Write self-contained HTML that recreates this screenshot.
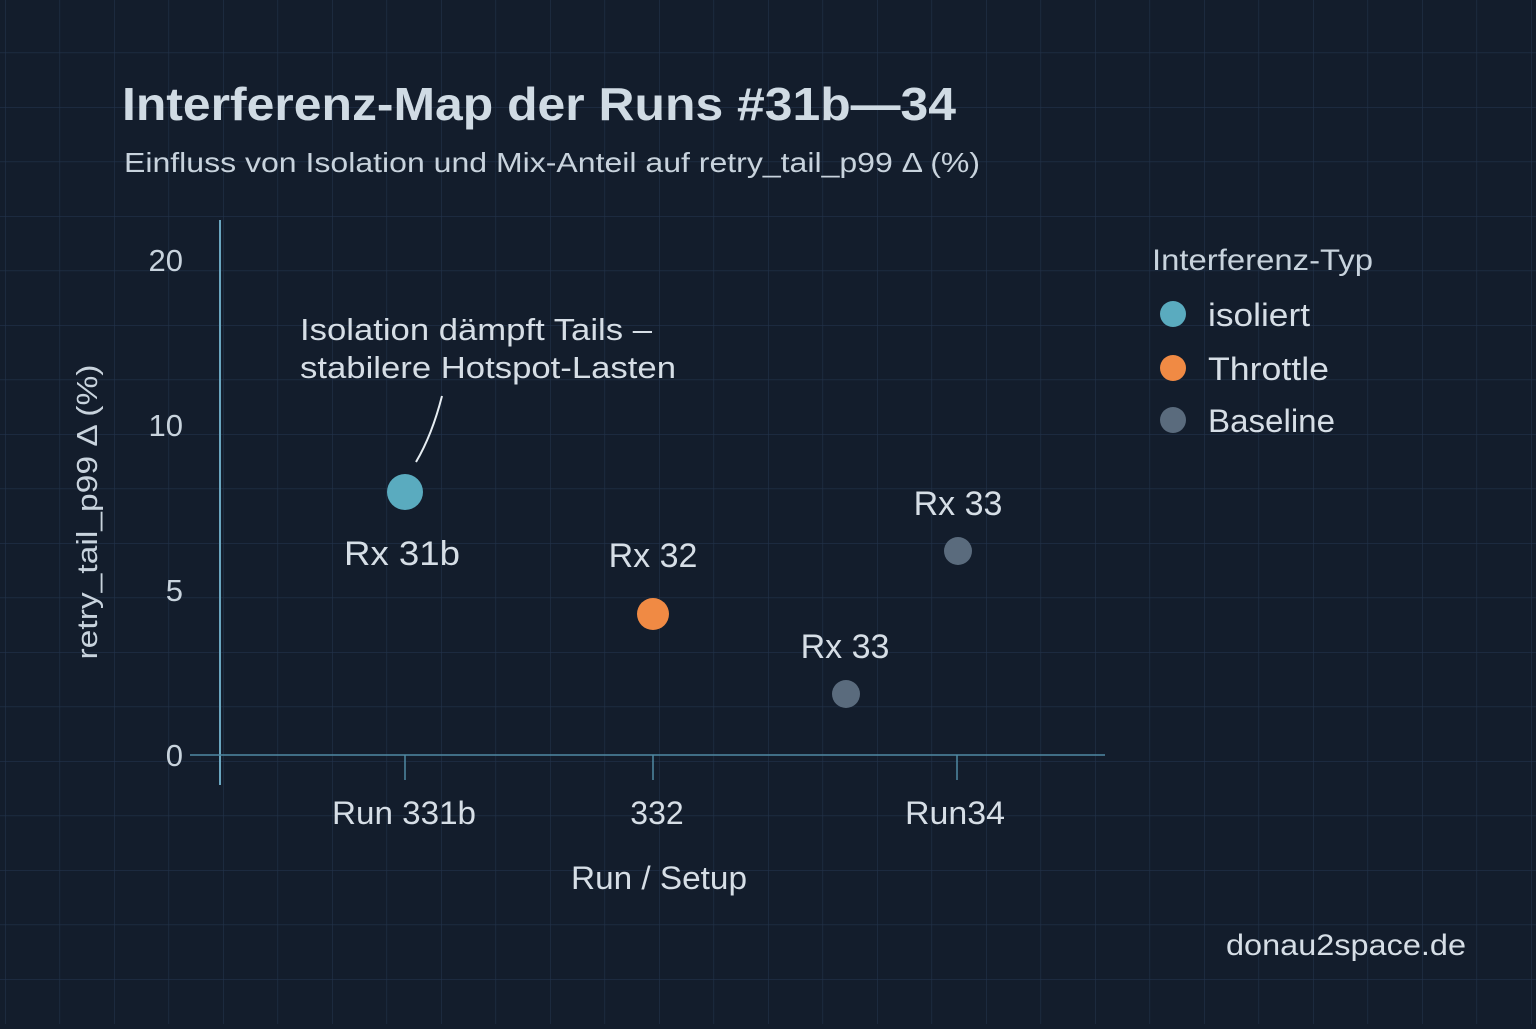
<!DOCTYPE html>
<html><head><meta charset="utf-8"><style>
body{margin:0;width:1536px;height:1024px;overflow:hidden;background:#131d2c;font-family:"Liberation Sans","DejaVu Sans",sans-serif}
</style></head><body>
<svg width="1536" height="1024" xmlns="http://www.w3.org/2000/svg">
<defs>
<pattern id="g" x="5" y="-2" width="54.5" height="54.5" patternUnits="userSpaceOnUse">
<path d="M0 0V54.5M0 0H54.5" stroke="#22324a" stroke-width="1.2" fill="none"/>
</pattern>
</defs>
<rect width="1536" height="1024" fill="#131d2c"/>
<rect width="1536" height="1024" fill="url(#g)"/>
<g fill="#d6dee6">
<text x="122" y="120" font-size="46" font-weight="bold" fill="#d0dbe4" textLength="834" lengthAdjust="spacingAndGlyphs">Interferenz-Map der Runs #31b—34</text>
<text x="124" y="172" font-size="28" fill="#c8d3dd" textLength="856" lengthAdjust="spacingAndGlyphs">Einfluss von Isolation und Mix-Anteil auf retry_tail_p99 Δ (%)</text>
<g font-size="31" text-anchor="end" fill="#c8d3dd">
<text x="183" y="271">20</text><text x="183" y="436">10</text><text x="183" y="601">5</text><text x="183" y="766">0</text>
</g>
<text transform="translate(97,512) rotate(-90)" font-size="29" text-anchor="middle" fill="#c8d3dd" textLength="295" lengthAdjust="spacingAndGlyphs">retry_tail_p99 Δ (%)</text>
<line x1="220" y1="220" x2="220" y2="785" stroke="#6aa6c0" stroke-width="2"/>
<line x1="190" y1="755" x2="1105" y2="755" stroke="#4f8aa3" stroke-width="1.5"/>
<g stroke="#4f8aa3" stroke-width="1.5"><line x1="405" y1="755" x2="405" y2="780"/><line x1="653" y1="755" x2="653" y2="780"/><line x1="957" y1="755" x2="957" y2="780"/></g>
<g font-size="32" text-anchor="middle" fill="#d6dee6">
<text x="404" y="824" textLength="144" lengthAdjust="spacingAndGlyphs">Run 331b</text><text x="657" y="824">332</text><text x="955" y="824" textLength="100" lengthAdjust="spacingAndGlyphs">Run34</text>
<text x="659" y="889" textLength="176" lengthAdjust="spacingAndGlyphs">Run / Setup</text>
</g>
<text x="300" y="340" font-size="31" fill="#d6dee6" textLength="352" lengthAdjust="spacingAndGlyphs">Isolation dämpft Tails –</text>
<text x="300" y="378" font-size="31" fill="#d6dee6" textLength="376" lengthAdjust="spacingAndGlyphs">stabilere Hotspot-Lasten</text>
<path d="M442 396 Q432 435 416 462" stroke="#e6edf2" stroke-width="2" fill="none"/>
<circle cx="405" cy="492" r="18" fill="#5aabbf"/>
<circle cx="653" cy="614" r="16" fill="#f08a44"/>
<circle cx="846" cy="694" r="14" fill="#5a6b7d"/>
<circle cx="958" cy="551" r="14" fill="#5a6b7d"/>
<g font-size="34" text-anchor="middle" fill="#d6dee6">
<text x="402" y="565" textLength="116" lengthAdjust="spacingAndGlyphs">Rx 31b</text><text x="653" y="567">Rx 32</text><text x="845" y="658">Rx 33</text><text x="958" y="515">Rx 33</text>
</g>
<text x="1152" y="270" font-size="30" fill="#c8d3dd" textLength="221" lengthAdjust="spacingAndGlyphs">Interferenz-Typ</text>
<circle cx="1173" cy="314" r="13" fill="#5aabbf"/>
<circle cx="1173" cy="368" r="13" fill="#f08a44"/>
<circle cx="1173" cy="420" r="13" fill="#5a6b7d"/>
<g font-size="32" fill="#d6dee6">
<text x="1208" y="326" textLength="102" lengthAdjust="spacingAndGlyphs">isoliert</text><text x="1208" y="380" textLength="121" lengthAdjust="spacingAndGlyphs">Throttle</text><text x="1208" y="432" textLength="127" lengthAdjust="spacingAndGlyphs">Baseline</text>
</g>
<text x="1226" y="955" font-size="30" fill="#d6dee6" textLength="240" lengthAdjust="spacingAndGlyphs">donau2space.de</text>
</g>
</svg>
</body></html>
